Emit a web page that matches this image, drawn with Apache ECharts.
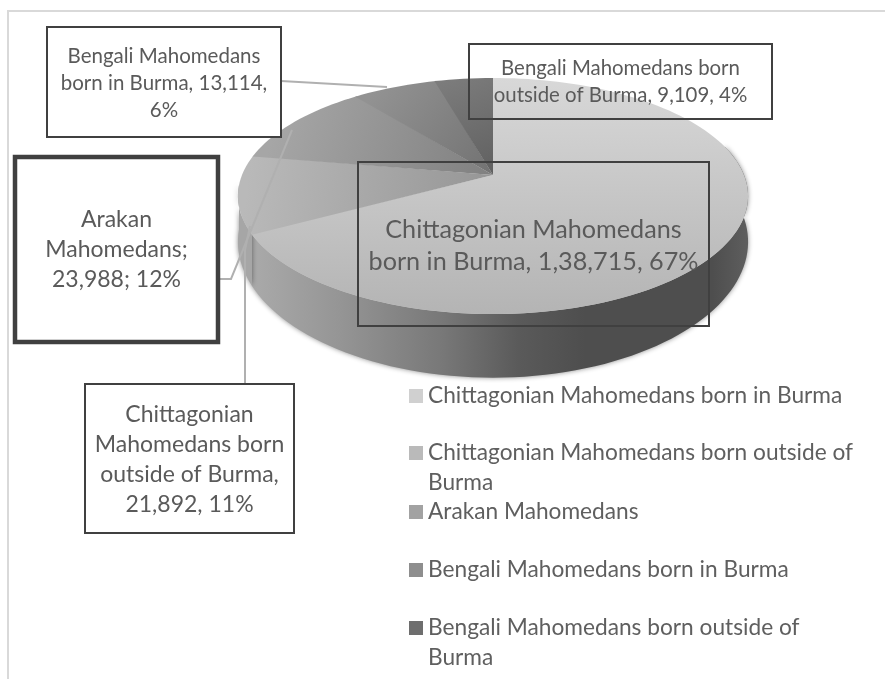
<!DOCTYPE html>
<html>
<head>
<meta charset="utf-8">
<title>Mahomedans in Burma</title>
<style>
  html, body { margin: 0; padding: 0; background: #fff; }
  #main { width: 885px; height: 679px; }
</style>
<script src="https://cdn.jsdelivr.net/npm/echarts@6/dist/echarts.min.js"></script>
</head>
<body>
<div id="main"></div>
<script>
var categories = [
  'Chittagonian Mahomedans born in Burma',
  'Chittagonian Mahomedans born outside of Burma',
  'Arakan Mahomedans',
  'Bengali Mahomedans born in Burma',
  'Bengali Mahomedans born outside of Burma'
];
var values = [138715, 21892, 23988, 13114, 9109];
var labelTexts = [
  'Chittagonian Mahomedans\nborn in Burma, 1,38,715, 67%',
  'Chittagonian\nMahomedans born\noutside of Burma,\n21,892, 11%',
  'Arakan\nMahomedans;\n23,988; 12%',
  'Bengali Mahomedans\nborn in Burma, 13,114,\n6%',
  'Bengali Mahomedans born\noutside of Burma, 9,109, 4%'
];

// looks of each slice, same order as categories
var legendColors = ['#d0d0d0', '#bababa', '#a2a2a2', '#8e8e8e', '#6e6e6e'];
var topGrad = [
  [0, 78, 0, 314, '#d8d8d8', '#b4b4b4'],
  [250, 160, 493, 190, '#b9b9b9', '#969696'],
  [280, 110, 493, 175, '#a6a6a6', '#808080'],
  [380, 85, 493, 175, '#929292', '#727272'],
  [450, 78, 493, 175, '#7c7c7c', '#606060']
];
var legendTop = [381, 408, 497, 555, 583];
var boxes = [
  { x: 358, y: 162, w: 351, h: 164, lw: 2, fill: null, font: 25.2, lh: 32, ty: 246 },
  { x: 85, y: 384, w: 209, h: 149, lw: 2, fill: '#fff', font: 23, lh: 30, ty: 460 },
  { x: 15, y: 157, w: 203, h: 185, lw: 4.5, fill: '#fff', font: 23, lh: 30, ty: 250 },
  { x: 47, y: 27, w: 234, h: 110, lw: 2, fill: '#fff', font: 20.5, lh: 27, ty: 83 },
  { x: 469, y: 44, w: 303, h: 75, lw: 2, fill: null, font: 20.4, lh: 27, ty: 81.5 }
];
var leaders = [
  [[281, 81], [387, 87]],
  [[218, 279], [231, 279], [292, 130]],
  [[245, 384], [245, 250], [250, 226]]
];

// pie in perspective: apex, widths and tilt
var cx = 493, cy = 175, rx = 251, ky = 114.3, tilt = 0.178, depth = 43;
var total = values.reduce(function (a, b) { return a + b; }, 0);

function rim(deg, down) {
  var a = deg * Math.PI / 180;
  var u = Math.sin(a), v = -Math.cos(a);
  var d = 1 - tilt * v;
  var y = cy + ky * v / d;
  if (down) y += depth / (d * d);
  return [cx + rx * u / d, y];
}

function arc(a0, a1, down) {
  var pts = [], n = Math.max(2, Math.ceil(Math.abs(a1 - a0) / 2));
  for (var i = 0; i <= n; i++) pts.push(rim(a0 + (a1 - a0) * i / n, down));
  return pts;
}

function grad(g) {
  return new echarts.graphic.LinearGradient(g[0], g[1], g[2], g[3], [
    { offset: 0, color: g[4] }, { offset: 1, color: g[5] }
  ], true);
}

var wallGrad = new echarts.graphic.LinearGradient(238, 0, 748, 0, [
  { offset: 0, color: '#adadad' },
  { offset: 0.2, color: '#959595' },
  { offset: 0.4, color: '#787878' },
  { offset: 0.55, color: '#5a5a5a' },
  { offset: 0.68, color: '#4e4e4e' },
  { offset: 0.93, color: '#4e4e4e' },
  { offset: 1, color: '#5e5e5e' }
], true);

function renderSlice(params, api) {
  var idx = params.seriesIndex;
  var before = 0;
  for (var i = 0; i < idx; i++) before += values[i];
  var a0 = before / total * 360;
  var a1 = (before + api.value(0)) / total * 360;
  var kids = [];
  // side wall, only the front of the pie shows it
  var w0 = Math.max(a0, 75), w1 = Math.min(a1, 265);
  if (w1 > w0) {
    kids.push({
      type: 'polygon',
      z2: 1,
      shape: { points: arc(w0, w1, false).concat(arc(w1, w0, true)) },
      style: {
        fill: idx === 0 ? wallGrad : '#a6a6a6',
        shadowBlur: 5,
        shadowColor: 'rgba(0,0,0,0.45)'
      }
    });
  }
  // slices run a little under the next one so no white seam shows
  var s0 = idx === 0 ? a0 - 0.4 : a0;
  var s1 = idx < values.length - 1 ? a1 + 0.4 : a1;
  kids.push({
    type: 'polygon',
    z2: 5,
    shape: { points: [[cx, cy]].concat(arc(s0, s1, false)) },
    style: { fill: grad(topGrad[idx]) }
  });
  return { type: 'group', children: kids };
}

var series = categories.map(function (name, i) {
  return {
    name: name,
    type: 'custom',
    coordinateSystem: 'none',
    silent: true,
    itemStyle: { color: legendColors[i] },
    renderItem: renderSlice,
    data: [[values[i]]]
  };
});

// two line names: a blank first line keeps the icon level with the text
function legendText(name) {
  if (name.indexOf('outside') < 0) return name;
  return '\n' + name.replace(' of Burma', ' of\nBurma');
}

var legends = categories.map(function (name, i) {
  return {
    data: [name],
    left: 409,
    top: legendTop[i],
    padding: 0,
    itemWidth: 14,
    itemHeight: 14,
    icon: 'rect',
    selectedMode: false,
    formatter: legendText,
    textStyle: {
      fontFamily: 'Lato',
      fontSize: 22.7,
      lineHeight: 30,
      color: '#5f5f5f'
    }
  };
});

var graphic = [
  { type: 'line', z: 10, silent: true, shape: { x1: 8, y1: 11, x2: 885, y2: 11 }, style: { stroke: '#d9d9d9', lineWidth: 2 } },
  { type: 'line', z: 10, silent: true, shape: { x1: 8, y1: 10, x2: 8, y2: 679 }, style: { stroke: '#d9d9d9', lineWidth: 2 } }
];
leaders.forEach(function (pts) {
  graphic.push({ type: 'polyline', z: 11, silent: true, shape: { points: pts }, style: { stroke: '#b0b0b0', lineWidth: 2, fill: null } });
});
boxes.forEach(function (b, i) {
  graphic.push({
    type: 'rect', z: 12, silent: true,
    shape: { x: b.x, y: b.y, width: b.w, height: b.h },
    style: { fill: b.fill || 'transparent', stroke: '#404040', lineWidth: b.lw }
  });
  graphic.push({
    type: 'text', z: 13, silent: true,
    style: {
      x: b.x + b.w / 2, y: b.ty,
      text: labelTexts[i],
      font: b.font + 'px Lato',
      lineHeight: b.lh,
      fill: '#5a5a5a',
      align: 'center',
      verticalAlign: 'middle'
    }
  });
});

var chart = echarts.init(document.getElementById('main'));
chart.setOption({
  backgroundColor: '#fff',
  animation: false,
  legend: legends,
  series: series,
  graphic: graphic
});
</script>
</body>
</html>
